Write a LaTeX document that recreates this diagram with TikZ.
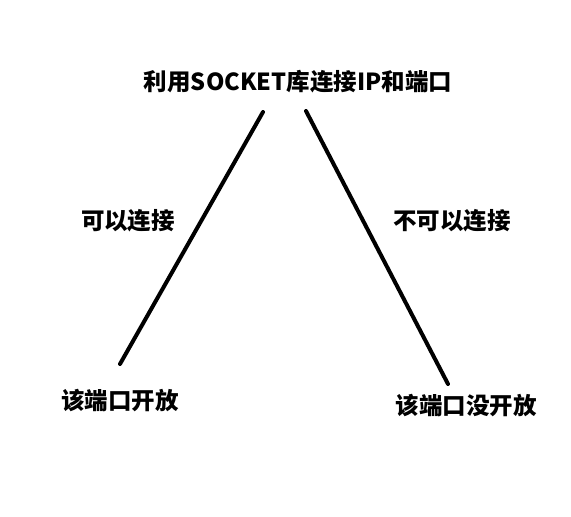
\documentclass[tikz,border=0pt]{standalone}
\usepackage{fontspec}
\usepackage{tikz}
\usetikzlibrary{positioning}
\newfontfamily\cjk{Noto Sans CJK SC}

\begin{document}
\begin{tikzpicture}[
    x=1pt, y=-1pt,
    lbl/.style={font=\cjk\bfseries\fontsize{23.5}{28}\selectfont, inner sep=0pt, anchor=center},
    ln/.style={line width=4pt, line cap=round, black}
]
\useasboundingbox (0,0) rectangle (571,517);
% Top
\node[lbl] (top) at (298, 82) {利用SOCKET库连接IP和端口};
% Branch ends
\coordinate (l1) at (263, 112);
\coordinate (l2) at (120, 364);
\coordinate (r1) at (306, 111);
\coordinate (r2) at (448, 384);
\draw[ln] (l1) -- (l2);
\draw[ln] (r1) -- (r2);
% Edge labels
\node[lbl] (yes) at (128, 221) {可以连接};
\node[lbl] (no) at (452, 221) {不可以连接};
% Results
\node[lbl] (open) at (120, 401) {该端口开放};
\node[lbl] (closed) at (466, 406) {该端口没开放};
\end{tikzpicture}
\end{document}
